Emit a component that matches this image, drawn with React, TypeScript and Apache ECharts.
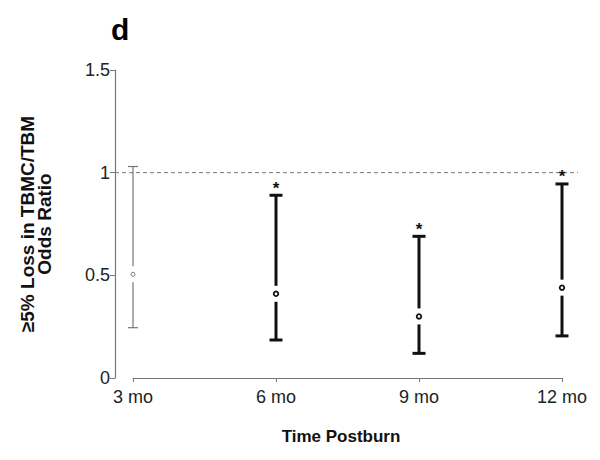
import React, { useEffect, useRef } from "react";
import * as echarts from "echarts";

const categories = ["3 mo", "6 mo", "9 mo", "12 mo"];
const estimates = [0.505, 0.41, 0.3, 0.44];
const lowerCI = [0.245, 0.185, 0.12, 0.205];
const upperCI = [1.03, 0.89, 0.69, 0.945];
const significant = [false, true, true, true];
const yTicks = [0, 0.5, 1, 1.5];
const referenceValue = 1;

const FONT = "'Liberation Sans', Arial, sans-serif";

export default function App() {
  const ref = useRef<HTMLDivElement>(null);
  useEffect(() => {
    if (!ref.current) return;
    const chart = echarts.init(ref.current, undefined, { renderer: "svg" });
    const data = categories.map((_, i) => [i, lowerCI[i], upperCI[i], estimates[i], significant[i] ? 1 : 0]);
    chart.setOption({
      animation: false,
      backgroundColor: "#ffffff",
      grid: { left: 133, right: 38, top: 70, bottom: 82, containLabel: false },
      xAxis: {
        type: "category",
        data: categories,
        boundaryGap: false,
        offset: 4,
        axisLine: { lineStyle: { color: "#777", width: 1.2 } },
        axisTick: { show: true, length: 4, alignWithLabel: true, lineStyle: { color: "#777" } },
        axisLabel: { color: "#222", fontSize: 18, fontFamily: FONT, margin: 6 },
        splitLine: { show: false },
      },
      yAxis: {
        type: "value",
        min: yTicks[0],
        max: yTicks[yTicks.length - 1],
        interval: 0.5,
        offset: 18,
        axisLine: { show: true, lineStyle: { color: "#777", width: 1.2 } },
        axisTick: { show: true, length: 5, lineStyle: { color: "#777" } },
        axisLabel: { color: "#222", fontSize: 18, fontFamily: FONT, margin: 5 },
        splitLine: { show: false },
        name: "≥5% Loss in TBMC/TBM\nOdds Ratio",
        nameLocation: "middle",
        nameRotate: 90,
        nameGap: 62,
        nameTextStyle: { fontSize: 19, fontWeight: "bold", fontFamily: FONT, color: "#111", lineHeight: 17 },
      },
      graphic: [
        {
          type: "text",
          left: 111,
          top: 14,
          style: { text: "d", font: `bold 30px ${FONT}`, fill: "#000" },
        },
        {
          type: "text",
          x: 341,
          y: 436,
          style: {
            text: "Time Postburn",
            font: `bold 17px ${FONT}`,
            fill: "#111",
            textAlign: "center",
            textVerticalAlign: "middle",
          },
        },
      ],
      series: [
        {
          type: "custom",
          data: [[referenceValue]],
          silent: true,
          z: 1,
          renderItem: (params: any, api: any) => {
            const p0 = api.coord([0, api.value(0)]);
            const p1 = api.coord([categories.length - 1, api.value(0)]);
            return {
              type: "line",
              shape: { x1: p0[0] - 18, y1: p0[1], x2: p1[0] + 16, y2: p1[1] },
              style: { stroke: "#777", lineWidth: 1, lineDash: [4, 3] },
            };
          },
        },
        {
          type: "custom",
          data,
          silent: true,
          z: 3,
          renderItem: (params: any, api: any) => {
            const x = api.value(0);
            const lo = api.coord([x, api.value(1)]);
            const hi = api.coord([x, api.value(2)]);
            const est = api.coord([x, api.value(3)]);
            const sig = api.value(4) === 1;
            const color = sig ? "#111" : "#6f7777";
            const lw = sig ? 3 : 1.2;
            const capHalf = sig ? 6.5 : 5;
            const gap = 8;
            const cx = est[0];
            const children: any[] = [
              {
                type: "line",
                shape: { x1: cx, y1: hi[1], x2: cx, y2: est[1] - gap },
                style: { stroke: color, lineWidth: lw },
              },
              {
                type: "line",
                shape: { x1: cx, y1: est[1] + gap, x2: cx, y2: lo[1] },
                style: { stroke: color, lineWidth: lw },
              },
              {
                type: "line",
                shape: { x1: cx - capHalf, y1: hi[1], x2: cx + capHalf, y2: hi[1] },
                style: { stroke: color, lineWidth: lw },
              },
              {
                type: "line",
                shape: { x1: cx - capHalf, y1: lo[1], x2: cx + capHalf, y2: lo[1] },
                style: { stroke: color, lineWidth: lw },
              },
              {
                type: "circle",
                shape: { cx, cy: est[1], r: sig ? 2.3 : 2 },
                style: { fill: "#fff", stroke: color, lineWidth: sig ? 1.8 : 1 },
              },
            ];
            if (sig) {
              children.push({
                type: "text",
                x: cx,
                y: hi[1] - 7,
                style: {
                  text: "*",
                  font: `bold 17px ${FONT}`,
                  fill: "#111",
                  textAlign: "center",
                  textVerticalAlign: "middle",
                },
              });
            }
            return { type: "group", children };
          },
        },
      ],
    });
    return () => chart.dispose();
  }, []);
  return <div ref={ref} style={{ width: 600, height: 460, margin: -8 }} />;
}
